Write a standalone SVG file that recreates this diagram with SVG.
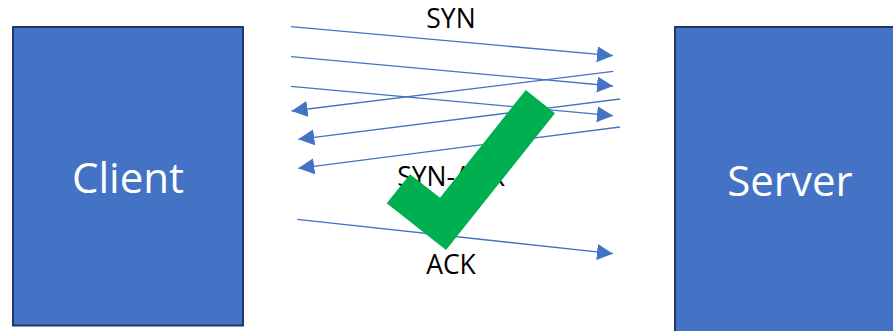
<svg xmlns="http://www.w3.org/2000/svg" width="893" height="331" viewBox="0 0 893 331">
  <style>
    .box { fill: #4472c4; stroke: #203864; stroke-width: 2; }
    .box-label { fill: #ffffff; font-family: "Open Sans", "Noto Sans", sans-serif; font-size: 42px; text-anchor: middle; }
    .msg { stroke: #4472c4; stroke-width: 1.3; fill: none; marker-end: url(#head); }
    .msg-label { fill: #000000; font-family: "Open Sans", "Noto Sans", sans-serif; font-size: 26.5px; text-anchor: middle; }
    .tick { fill: #00b050; }
  </style>
  <defs>
    <marker id="head" markerUnits="userSpaceOnUse" markerWidth="16" markerHeight="16" refX="16" refY="8" orient="auto">
      <path d="M0,0 L16,8 L0,16 z" fill="#4472c4"/>
    </marker>
  </defs>
  <rect width="893" height="331" fill="#ffffff"/>

  <g id="client">
    <rect class="box" x="13" y="27" width="230" height="298.5"/>
    <text class="box-label" x="128" y="193">Client</text>
  </g>

  <g id="server">
    <rect class="box" x="675" y="27" width="230" height="310"/>
    <text class="box-label" x="790" y="196">Server</text>
  </g>

  <g id="connectors">
    <line class="msg" x1="291" y1="26.7" x2="613" y2="55.7"/>
    <line class="msg" x1="291" y1="56.7" x2="613" y2="86"/>
    <line class="msg" x1="291" y1="86.3" x2="613" y2="115.7"/>
    <line class="msg" x1="613.3" y1="71.3" x2="291.5" y2="111"/>
    <line class="msg" x1="620" y1="99" x2="298.3" y2="139.3"/>
    <line class="msg" x1="620" y1="127" x2="298.3" y2="168.3"/>
    <line class="msg" x1="297.3" y1="219.3" x2="613" y2="253.7"/>
  </g>

  <g id="labels">
    <text class="msg-label" x="451" y="27.5">SYN</text>
    <text class="msg-label" x="451" y="186">SYN-ACK</text>
    <text class="msg-label" x="451" y="273.5">ACK</text>
  </g>

  <g id="tick">
    <polygon class="tick" points="525.7,90 555,113.3 446,250 386.7,203.3 410,174.3 440,197.7"/>
  </g>
</svg>
